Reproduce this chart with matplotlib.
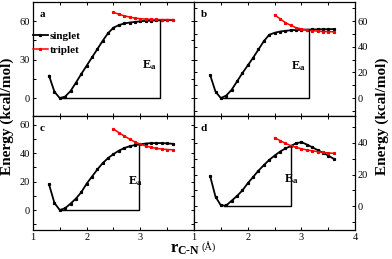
import numpy as np
import matplotlib
matplotlib.use("Agg")
import matplotlib.pyplot as plt
from matplotlib.ticker import MultipleLocator

plt.rcParams["font.family"] = ["Liberation Serif", "DejaVu Serif"]
plt.rcParams["mathtext.fontset"] = "custom"
plt.rcParams["mathtext.rm"] = "Liberation Serif"
plt.rcParams["mathtext.bf"] = "Liberation Serif:bold"
plt.rcParams["mathtext.it"] = "Liberation Serif:italic"

# singlet scans: r = 1.3 ... 3.6 step 0.1
r_singlet = [1.3, 1.4, 1.5, 1.6, 1.7, 1.8, 1.9, 2.0, 2.1, 2.2, 2.3, 2.4,
             2.5, 2.6, 2.7, 2.8, 2.9, 3.0, 3.1, 3.2, 3.3, 3.4, 3.5, 3.6]
# triplet scans: r = 2.5 ... 3.6 step 0.1
r_triplet = [2.5, 2.6, 2.7, 2.8, 2.9, 3.0, 3.1, 3.2, 3.3, 3.4, 3.5, 3.6]

singlet_a = [17.5, 5.0, 0.0, 1.2, 5.5, 12.0, 18.8, 25.3, 31.8, 38.3, 44.8, 50.8,
             55.0, 57.0, 58.3, 59.0, 59.5, 60.0, 60.3, 60.5, 60.7, 60.8, 60.9, 61.0]
triplet_a = [67.0, 65.5, 64.3, 63.3, 62.5, 62.0, 61.7, 61.5, 61.4, 61.3, 61.3, 61.3]

singlet_b = [18.0, 5.0, 0.0, 2.0, 6.5, 13.0, 19.5, 25.5, 31.5, 38.0, 44.5, 49.5,
             51.0, 52.0, 52.5, 53.0, 53.2, 53.4, 53.5, 53.6, 53.7, 53.8, 53.8, 53.9]
triplet_b = [65.0, 62.0, 59.0, 56.8, 55.0, 54.0, 53.2, 52.7, 52.3, 52.0, 51.9, 51.8]

singlet_c = [18.0, 5.0, 0.0, 1.3, 4.5, 8.0, 12.5, 18.5, 23.5, 28.5, 33.0, 36.5,
             39.3, 41.7, 43.5, 44.8, 45.6, 46.2, 46.7, 47.0, 47.0, 47.0, 46.8, 46.5]
triplet_c = [57.0, 54.3, 52.0, 49.8, 47.8, 46.2, 45.0, 44.0, 43.3, 42.8, 42.5, 42.3]

singlet_d = [19.0, 6.0, 0.5, 0.5, 3.5, 6.5, 10.0, 14.5, 18.5, 22.5, 26.0, 29.3,
             32.0, 34.5, 36.5, 38.0, 39.8, 40.5, 39.0, 37.3, 35.5, 33.8, 32.0, 30.0]
triplet_d = [43.3, 41.5, 39.8, 38.3, 37.2, 36.3, 35.6, 35.0, 34.5, 34.1, 33.7, 33.4]

# Ea box: (r at minimum, r at crossing, barrier height)
ea_a = (1.5, 3.36, 60.0)
ea_b = (1.5, 3.14, 53.5)
ea_c = (1.5, 2.98, 46.0)
ea_d = (1.55, 2.8, 38.0)

panels = [
    ("a", singlet_a, triplet_a, ea_a, (-14, 75), 30, 15, (3.30, 26)),
    ("b", singlet_b, triplet_b, ea_b, (-14, 75), 20, 10, (3.08, 25)),
    ("c", singlet_c, triplet_c, ea_c, (-14, 66), 20, 10, (3.05, 20)),
    ("d", singlet_d, triplet_d, ea_d, (-15, 57), 20, 10, (2.95, 17)),
]

fig, axes = plt.subplots(2, 2, figsize=(3.92, 2.59), dpi=100)
fig.subplots_adjust(left=0.084, right=0.906, top=0.992, bottom=0.112,
                    hspace=0, wspace=0)

for ax, (lab, s, t, ea, ylim, major, minor, txt) in zip(axes.flat, panels):
    ax.plot(r_singlet, s, color="black", lw=1.3, marker="s", ms=1.3,
            label="singlet")
    ax.plot(r_triplet, t, color="red", lw=1.1, marker="*", ms=2.0,
            label="triplet")
    x0, x1, h = ea
    ax.plot([x0, x1, x1], [0, 0, h], color="black", lw=1.0)
    ax.text(txt[0], txt[1], r"$\mathbf{E_a}$", fontsize=9, ha="right",
            va="center")
    ax.text(0.04, 0.93, lab, transform=ax.transAxes, fontsize=8,
            fontweight="bold", va="top", ha="left")
    ax.set_xlim(1, 4)
    ax.set_ylim(*ylim)
    ax.xaxis.set_major_locator(MultipleLocator(1))
    ax.xaxis.set_minor_locator(MultipleLocator(0.5))
    ax.yaxis.set_major_locator(MultipleLocator(major))
    ax.yaxis.set_minor_locator(MultipleLocator(minor))
    ax.tick_params(which="both", direction="in", top=True, bottom=True,
                   left=True, right=True, labelsize=7.5, pad=2)
    ax.tick_params(which="major", length=2.5, width=0.7)
    ax.tick_params(which="minor", length=2.0, width=0.7)
    for sp in ax.spines.values():
        sp.set_linewidth(0.9)

# top row: no x labels
for ax in axes[0]:
    ax.tick_params(labelbottom=False)
# right column: y labels on the right
for ax in axes[:, 1]:
    ax.tick_params(labelleft=False, labelright=True)
# left bottom: hide "4" so it doesn't clash with the right panel's "1"
axes[1, 0].set_xticks([1, 2, 3])
axes[1, 0].xaxis.set_minor_locator(MultipleLocator(0.5))

leg = axes[0, 0].legend(loc="upper left", bbox_to_anchor=(-0.04, 0.80),
                        frameon=False, fontsize=8, handlelength=1.3,
                        handletextpad=0.2, labelspacing=0.35,
                        borderaxespad=0.2)
for txt in leg.get_texts():
    txt.set_fontweight("bold")

fig.text(0.018, 0.55, "Energy (kcal/mol)", rotation=90, fontsize=11,
         fontweight="bold", ha="center", va="center")
fig.text(0.975, 0.55, "Energy (kcal/mol)", rotation=90, fontsize=11,
         fontweight="bold", ha="center", va="center")
fig.text(0.51, 0.038, r"$\mathbf{r_{C\text{-}N}}$", fontsize=12,
         ha="right", va="center")
fig.text(0.515, 0.05, "(Å)", fontsize=7.5, ha="left", va="center")

fig.savefig("out.png", dpi=100)
